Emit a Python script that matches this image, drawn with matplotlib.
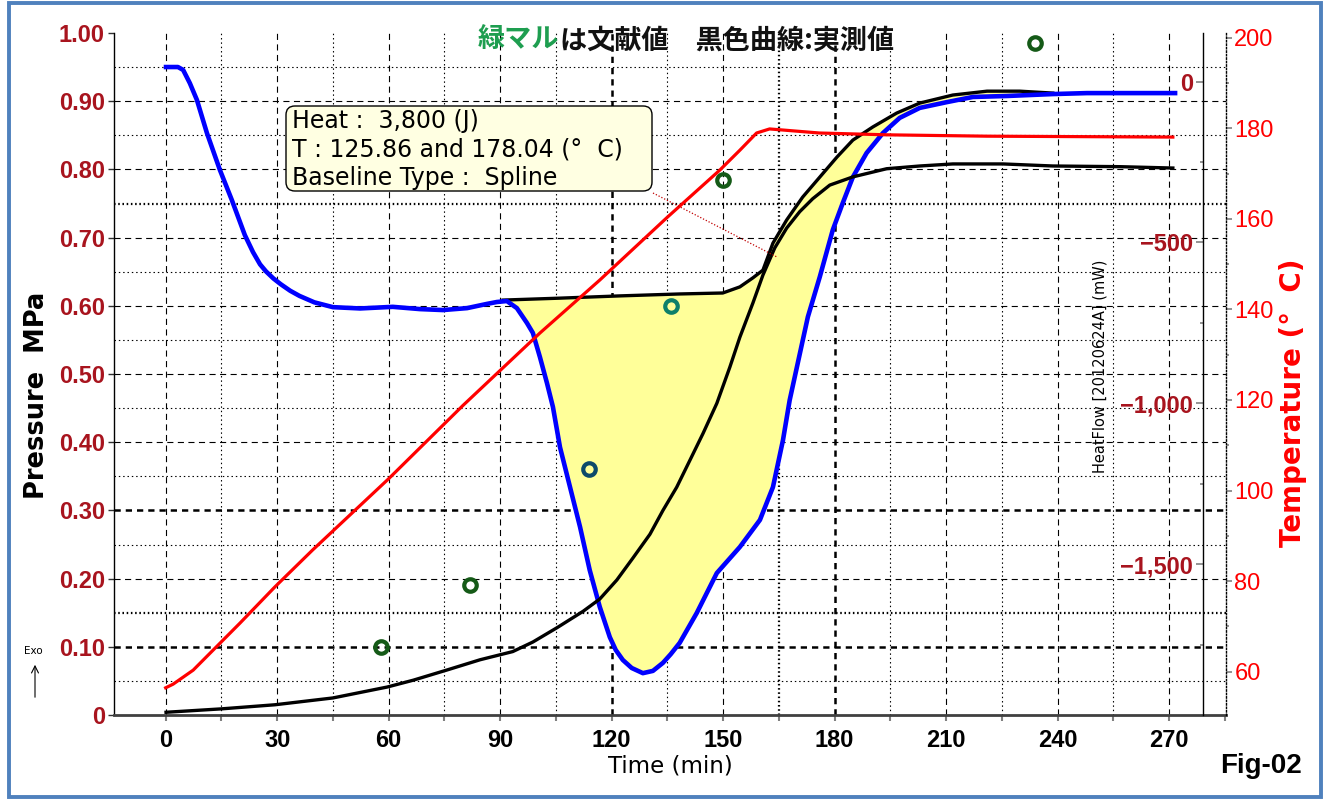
import numpy as np
import matplotlib
matplotlib.use('Agg')
import matplotlib.pyplot as plt
from matplotlib.patches import FancyBboxPatch, Rectangle, FancyArrowPatch
from matplotlib.ticker import FixedLocator, FuncFormatter

# ---------------- data ----------------
# pressure (MPa), black measured curve
press_time = [0.1, 15, 29.4, 45, 59.6, 66.6, 75.7, 84.6, 93.4, 98.8, 105.3, 112.3, 116.8,
              121.4, 125.7, 130.3, 133.8, 137.5, 141.1, 144.6, 148.3, 151.8, 154.5, 158.0,
              160.7, 163.9, 167.1, 170.6, 174.1, 178.7, 184.9, 194.0, 202.9, 211.8, 225.3,
              238.7, 256.7, 271.0]
press_val = [0.004, 0.009, 0.015, 0.025, 0.041, 0.051, 0.066, 0.081, 0.093, 0.107, 0.128,
             0.152, 0.170, 0.198, 0.230, 0.265, 0.300, 0.334, 0.374, 0.413, 0.457, 0.510,
             0.554, 0.604, 0.645, 0.685, 0.714, 0.738, 0.757, 0.777, 0.789, 0.801, 0.805,
             0.808, 0.808, 0.805, 0.804, 0.802]

# temperature (deg C), red curve
temp_time = [0, 2, 7.4, 20.0, 29.4, 39.6, 60, 80, 100.7, 116.8, 135, 149.1, 154.5, 159.0,
             162.5, 175.9, 194.0, 220.9, 271.0]
temp_val = [56.4, 57.2, 60.3, 70.7, 78.7, 86.9, 102.6, 118.8, 134.8, 146.5, 160.4, 170.8,
            175.2, 179.0, 179.9, 179.0, 178.6, 178.3, 178.1]

# heat flow (mW), blue DSC curve
hf_time = [0.1, 3.3, 4.7, 6.5, 8.4, 11.1, 14.6, 17.8, 21.3, 23.5, 25.4, 27.0, 29.0, 31.0,
           33.5, 36.0, 40.0, 45.0, 52.3, 61.1, 68.4, 74.6, 81.1, 86.4, 89.1, 91.8, 94.5,
           97.2, 98.8, 100.7, 102.6, 104.2, 106.1, 108.8, 111.5, 114.1, 116.8, 119.5, 121.1,
           123.0, 125.4, 128.4, 131.1, 133.8, 135.9, 138.3, 142.9, 148.3, 154.5, 159.9,
           163.4, 166.1, 167.9, 172.8, 176.0, 179.5, 182.2, 184.9, 188.6, 193.0, 197.5,
           202.9, 210.2, 217.2, 226.3, 238.7, 247.9, 271.6]
hf_val = [45, 45, 36, -5, -57, -160, -275, -368, -477, -530, -568, -590, -612, -630, -650,
          -666, -686, -701, -705, -700, -707, -710, -704, -691, -685, -682, -704, -750,
          -781, -856, -937, -1011, -1136, -1260, -1384, -1518, -1632, -1726, -1766, -1797,
          -1822, -1838, -1831, -1806, -1779, -1744, -1651, -1527, -1446, -1362, -1260,
          -1114, -990, -731, -607, -461, -377, -297, -222, -160, -113, -82, -64, -48, -45,
          -39, -36, -36]

# spline baseline (mW)
base_time = [90.8, 106.1, 122.2, 138.3, 149.9, 154.5, 158.0, 160.7, 163.4, 167.1, 171.4,
             176.0, 180.6, 184.9, 190.3, 196.7, 202.9, 211.8, 221.0, 229.8, 238.7]
base_val = [-679, -673, -666, -660, -657, -638, -610, -586, -502, -430, -359, -297, -235,
            -182, -141, -98, -67, -42, -30, -30, -36]

# literature values (green circles)
lit_time = [58, 82, 114, 136, 150, 234]
lit_press = [0.10, 0.19, 0.36, 0.60, 0.785, 0.985]

x_ticks = [0, 30, 60, 90, 120, 150, 180, 210, 240, 270]
p_ticks = [0, 0.1, 0.2, 0.3, 0.4, 0.5, 0.6, 0.7, 0.8, 0.9, 1.0]
hf_ticks = [0, -500, -1000, -1500]
t_ticks = [60, 80, 100, 120, 140, 160, 180, 200]

title_green = "緑マル"
title_black = "は文献値　黒色曲線:実測値"
box_lines = ["Heat :  3,800 (J)", "T : 125.86 and 178.04 (°  C)", "Baseline Type :  Spline"]

# ---------------- styling ----------------
W, H = 1325, 799
L, R, B, T = 114, 1226, 715, 33
DARKRED = '#A8141E'
lit_colors = ['#155A17', '#155A17', '#0D4A6A', '#0E806A', '#155A17', '#155A17']
LAT = 'Liberation Sans'

fig = plt.figure(figsize=(W / 100, H / 100), dpi=100)
fig.patch.set_facecolor('white')

def fx(px):
    return px / W

def fy(py):
    return 1 - py / H

ax = fig.add_axes([fx(L), fy(B), (R - L) / W, (B - T) / H])
ax.set_xlim(-13.9, 285.3)
ax.set_ylim(0, 1.0)

# grid
for xv in range(0, 271, 15):
    heavy = xv in (120, 180)
    if xv % 30 == 0:
        ax.axvline(xv, color='k', lw=1.8 if heavy else 0.8, ls=(0, (5.5, 4)) if not heavy else (0, (2.5, 2)), zorder=0)
    else:
        ax.axvline(xv, color='k', lw=1.6 if xv == 165 else 0.8, ls=(0, (1.3, 2.6)) if xv != 165 else (0, (0.7, 1.2)), zorder=0)
for k in range(1, 20):
    pv = k * 0.05
    if k % 2 == 0:
        heavy = k in (2, 6)
        ax.axhline(pv, color='k', lw=1.8 if heavy else 0.8, ls=(0, (2.5, 2)) if heavy else (0, (5.5, 4)), zorder=0)
    else:
        heavy = k in (3, 15)
        ax.axhline(pv, color='k', lw=1.6 if heavy else 0.8, ls=(0, (0.7, 1.2)) if heavy else (0, (1.3, 2.6)), zorder=0)

ax.xaxis.set_major_locator(FixedLocator(x_ticks))
ax.xaxis.set_minor_locator(FixedLocator([v + 15 for v in x_ticks]))
ax.yaxis.set_major_locator(FixedLocator(p_ticks))
ax.yaxis.set_major_formatter(FuncFormatter(lambda v, p: '0' if abs(v) < 1e-9 else f'{v:.2f}'))
ax.tick_params(axis='x', which='both', length=4, width=1.5, color='#808080', direction='out', pad=6)
ax.tick_params(axis='y', which='major', length=4.5, width=1, color='#303030', direction='out', pad=2)
for lab in ax.get_xticklabels():
    lab.set_fontfamily(LAT); lab.set_fontweight('bold'); lab.set_fontsize(17)
for lab in ax.get_yticklabels():
    lab.set_fontfamily(LAT); lab.set_fontweight('bold'); lab.set_fontsize(17); lab.set_color(DARKRED)
ax.spines['top'].set_visible(False)
ax.spines['right'].set_visible(False)
ax.spines['left'].set_color('k'); ax.spines['left'].set_linewidth(1.0)
ax.spines['bottom'].set_color('#404040'); ax.spines['bottom'].set_linewidth(2.0)

# heat-flow axis
ax_hf = ax.twinx()
ax_hf.set_ylim(-1968, 150.7)
for s in ax_hf.spines.values():
    s.set_visible(False)
ax_hf.spines['left'].set_visible(True)
ax_hf.spines['left'].set_position(('axes', 0.9793))
ax_hf.spines['left'].set_color('k'); ax_hf.spines['left'].set_linewidth(1.0)
ax_hf.yaxis.set_ticks_position('left')
ax_hf.yaxis.set_major_locator(FixedLocator(hf_ticks))
ax_hf.yaxis.set_minor_locator(FixedLocator([-250, -750, -1250, -1750]))
ax_hf.yaxis.set_major_formatter(FuncFormatter(lambda v, p: f'{v:,.0f}'.replace('-', '\u2212')))
ax_hf.tick_params(axis='y', which='major', length=5, width=1.2, color='#808080', direction='out', pad=2)
ax_hf.tick_params(axis='y', which='minor', length=2.5, width=1.2, color='#808080', direction='out')
for lab in ax_hf.get_yticklabels():
    lab.set_fontfamily(LAT); lab.set_fontweight('bold'); lab.set_fontsize(17); lab.set_color(DARKRED)

grid_t = np.linspace(base_time[0], base_time[-1], 600)
upper = np.interp(grid_t, base_time, base_val)
lower = np.interp(grid_t, hf_time, hf_val)
ax_hf.fill_between(grid_t, lower, upper, color='#FFFF99', lw=0, zorder=1)
ax_hf.plot(hf_time, hf_val, color='#0000FF', lw=3.3, solid_joinstyle='round', zorder=3)
ax_hf.plot(base_time, base_val, color='k', lw=2.4, solid_joinstyle='round', zorder=2)

# pressure curve layer
ax_p = ax.twinx()
ax_p.set_ylim(0, 1.0)
ax_p.yaxis.set_visible(False)
for s in ax_p.spines.values():
    s.set_visible(False)
ax_p.plot(press_time, press_val, color='k', lw=2.4, solid_joinstyle='round', zorder=2)
for tt, pp, cc in zip(lit_time, lit_press, lit_colors):
    ax_p.plot([tt], [pp], marker='o', ms=9, mfc='none', mec=cc, mew=3.0, ls='none', zorder=4)

# temperature axis
ax_t = ax.twinx()
ax_t.set_ylim(50.39, 201.1)
for s in ax_t.spines.values():
    s.set_visible(False)
ax_t.spines['right'].set_visible(True)
ax_t.spines['right'].set_linestyle((0, (1, 1.5)))
ax_t.spines['right'].set_color('k'); ax_t.spines['right'].set_linewidth(1.0)
ax_t.yaxis.set_major_locator(FixedLocator(t_ticks))
ax_t.yaxis.set_minor_locator(FixedLocator([70, 90, 110, 130, 150, 170, 190]))
ax_t.tick_params(axis='y', which='major', length=4, width=1.2, color='#808080', direction='out', pad=2)
ax_t.tick_params(axis='y', which='minor', length=2, width=1.2, color='#808080', direction='out')
for lab in ax_t.get_yticklabels():
    lab.set_fontfamily(LAT); lab.set_fontsize(17); lab.set_color('#FF0000')
ax_t.plot(temp_time, temp_val, color='#FF0000', lw=2.3, solid_joinstyle='round', zorder=3)

ax.set_zorder(0); ax_hf.set_zorder(1); ax_p.set_zorder(2); ax_t.set_zorder(3)

# annotation box
bx0, by0 = (286 - L) / (R - L), (B - 191) / (B - T)
bw, bh = (652 - 286) / (R - L), (191 - 106) / (B - T)
box = FancyBboxPatch((bx0, by0), bw, bh, boxstyle='round,pad=0,rounding_size=0.008',
                     mutation_aspect=(R - L) / (B - T), transform=ax_t.transAxes,
                     fc='#FFFFE2', ec='k', lw=1.0, zorder=10)
ax_t.add_patch(box)
for line, yy in zip(box_lines, [121, 150, 178]):
    ax_t.text((292 - L) / (R - L), (B - yy) / (B - T), line, transform=ax_t.transAxes,
              ha='left', va='center', fontsize=17, family='DejaVu Sans', color='k', zorder=11)
# leader line
ax_t.plot([(653 - L) / (R - L), (777 - L) / (R - L)], [(B - 193) / (B - T), (B - 257) / (B - T)],
          transform=ax_t.transAxes, color='#C00000', lw=0.9, ls=(0, (1, 1.5)), zorder=5)

# texts
CJK = ['Noto Sans CJK JP', 'DejaVu Sans']
fig.text(fx(559), fy(40), title_green, ha='right', va='center', fontsize=19.5, fontweight='bold',
         family=CJK, color='#1E9E50')
fig.text(fx(560), fy(40), title_black, ha='left', va='center', fontsize=19.5, fontweight='bold',
         family=CJK, color='#111111')
fig.text(fx(37), fy(395), 'Pressure  MPa', rotation=90, ha='center', va='center', fontsize=18.5,
         fontweight='bold', family='DejaVu Sans', color='k')
fig.text(fx(1293), fy(403), 'Temperature (°  C)', rotation=90, ha='center', va='center',
         fontsize=20, fontweight='bold', family='DejaVu Sans', color='#FF0000')
fig.text(fx(670), fy(766), 'Time (min)', ha='center', va='center', fontsize=16.5,
         family='DejaVu Sans', color='k')
fig.text(fx(1261), fy(766), 'Fig-02', ha='center', va='center', fontsize=20, fontweight='bold',
         family=LAT, color='k')
fig.text(fx(1100), fy(366), 'HeatFlow [20120624A] (mW)', rotation=90, ha='center', va='center',
         fontsize=10.5, family='DejaVu Sans', color='k')
fig.text(fx(33), fy(651), 'Exo', ha='center', va='center', fontsize=7.5, family='DejaVu Sans', color='k')
fig.add_artist(FancyArrowPatch((fx(35), fy(700)), (fx(35), fy(662)), transform=fig.transFigure,
                               arrowstyle='->,head_length=5,head_width=2.5', color='k', lw=0.8))

# blue frame
fig.add_artist(Rectangle((fx(9), fy(797)), fx(1321) - fx(9), fy(3) - fy(797), transform=fig.transFigure,
                         fill=False, ec='#4F81BD', lw=2.8))

fig.savefig('out.png', dpi=100, facecolor='white')
